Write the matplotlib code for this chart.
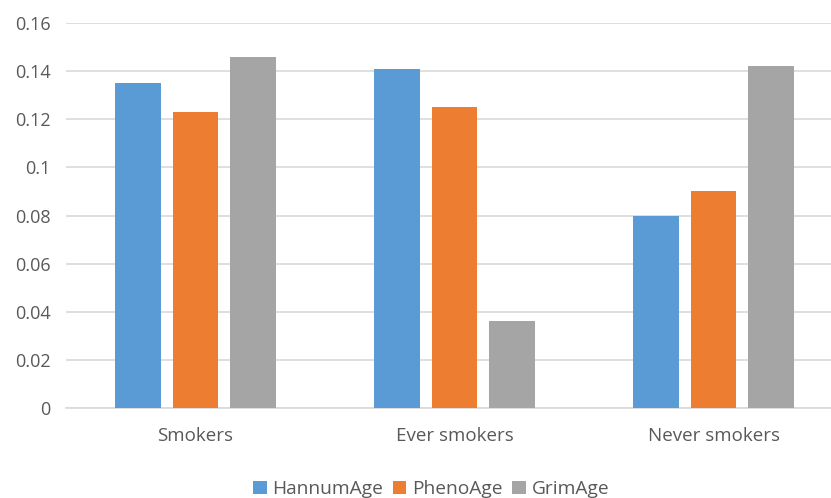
import numpy as np
import matplotlib.pyplot as plt

categories = ["Smokers", "Ever smokers", "Never smokers"]
hannum = [0.135, 0.141, 0.080]
pheno = [0.123, 0.125, 0.090]
grim = [0.146, 0.036, 0.142]

series = [("HannumAge", hannum, "#5B9BD5"),
          ("PhenoAge", pheno, "#ED7D31"),
          ("GrimAge", grim, "#A5A5A5")]

plt.rcParams["font.family"] = ["Open Sans", "DejaVu Sans"]
text_color = "#595959"

fig = plt.figure(figsize=(8.31, 4.98), dpi=100)
# plot area runs past the right edge of the image, as in the reference
ax = fig.add_axes([66 / 831, 1 - 408 / 498, (843 - 66) / 831, (408 - 23) / 498])

x = np.arange(len(categories))
width = 0.174
step = 0.222
for i, (name, vals, color) in enumerate(series):
    ax.bar(x + (i - 1) * step, vals, width, color=color, label=name, zorder=3)

ax.set_xlim(-0.5, 2.5)
ax.set_ylim(0, 0.16)
ax.set_yticks(np.arange(0, 0.161, 0.02))
ax.set_yticklabels(["0", "0.02", "0.04", "0.06", "0.08", "0.1", "0.12", "0.14", "0.16"])
ax.set_xticks(x)
ax.set_xticklabels(categories)
ax.grid(axis="y", color="#D9D9D9", linewidth=1.2, zorder=0)
for s in ["top", "right", "left"]:
    ax.spines[s].set_visible(False)
ax.spines["bottom"].set_color("#D9D9D9")
ax.spines["bottom"].set_linewidth(1.2)
ax.tick_params(axis="both", length=0, colors=text_color)
ax.tick_params(axis="x", pad=14, labelsize=13.5)
ax.tick_params(axis="y", pad=11, labelsize=13)

leg = fig.legend(loc="center", bbox_to_anchor=(0.519, 1 - 489 / 498), ncol=3,
                 frameon=False, fontsize=13.8, handlelength=0.7, handleheight=0.7,
                 handletextpad=0.3, columnspacing=0.5)
for t in leg.get_texts():
    t.set_color(text_color)

fig.savefig("out.png", dpi=100)
